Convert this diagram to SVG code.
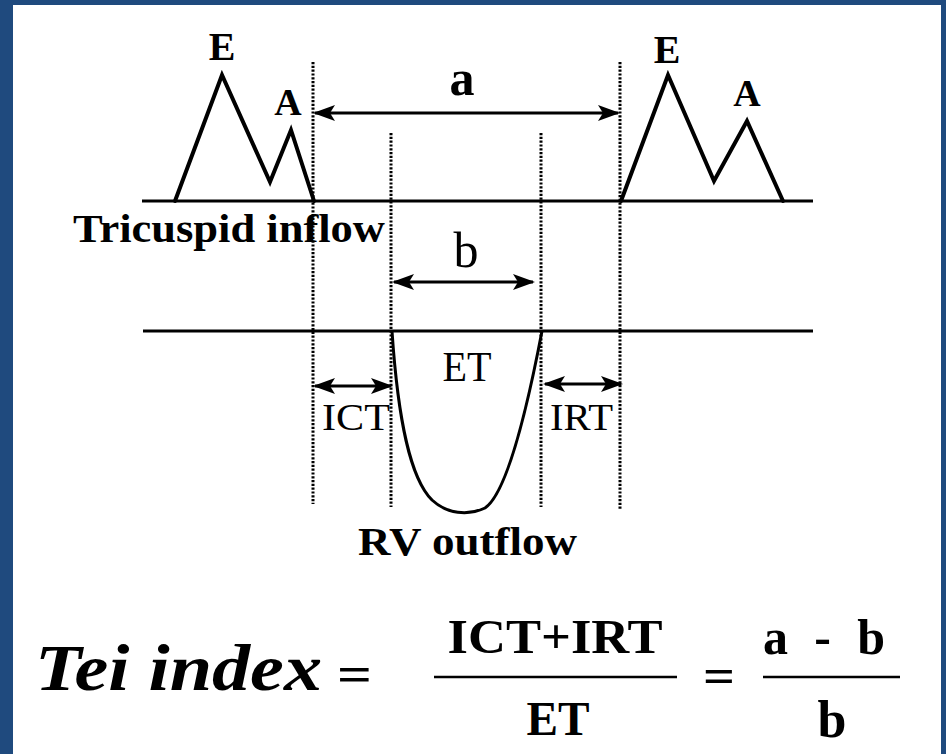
<svg xmlns="http://www.w3.org/2000/svg" width="946" height="754" viewBox="0 0 946 754">
<style>
.t{font-family:"Liberation Serif","Times New Roman",serif;fill:#000}
.b{font-weight:bold}
.bi{font-weight:bold;font-style:italic}
.w{fill:none;stroke:#000;stroke-width:4;stroke-linejoin:miter;stroke-linecap:round}
.base{fill:none;stroke:#000;stroke-width:3}
.dot{fill:none;stroke:#000;stroke-width:3;stroke-dasharray:2.2 1.6}
.arr{fill:none;stroke:#000;stroke-width:3;marker-start:url(#ah);marker-end:url(#ah)}
.frac{stroke:#000;stroke-width:2.5}
</style>
<defs>
<marker id="ah" viewBox="0 0 22 18" refX="20" refY="9" markerWidth="22" markerHeight="18" markerUnits="userSpaceOnUse" orient="auto-start-reverse">
<path d="M0,1 L22,9 L0,17 L5,9 z" fill="#000"/>
</marker>
</defs>
<rect x="0" y="0" width="946" height="754" fill="#1f4a7e"/>
<rect x="13" y="5" width="928" height="749" fill="#fff"/>

<g id="tricuspid-inflow">
<line class="base" x1="142" y1="201" x2="813" y2="201"/>
<polyline class="w" points="175,201 222,75 270,182 291,130 314,201"/>
<polyline class="w" points="621,201 668,75 714,181 747,121 783,201"/>
<text class="t b" x="222" y="60" font-size="40" text-anchor="middle">E</text>
<text class="t b" x="288" y="115" font-size="38" text-anchor="middle">A</text>
<text class="t b" x="667" y="63" font-size="40" text-anchor="middle">E</text>
<text class="t b" x="747" y="106" font-size="38" text-anchor="middle">A</text>
<text class="t b" x="73" y="242" font-size="40" textLength="312" lengthAdjust="spacingAndGlyphs">Tricuspid inflow</text>
</g>

<g id="rv-outflow">
<line class="base" x1="143" y1="331" x2="813" y2="331"/>
<path class="base" d="M392,331 C398,420 410,478 432,500 C447,514 468,516 485,508 C506,494 525,420 542,331"/>
<text class="t" x="467" y="381" font-size="42" text-anchor="middle" textLength="49" lengthAdjust="spacingAndGlyphs">ET</text>
<text class="t" x="322" y="430" font-size="38" textLength="68" lengthAdjust="spacingAndGlyphs">ICT</text>
<text class="t" x="550" y="430" font-size="38" textLength="63" lengthAdjust="spacingAndGlyphs">IRT</text>
<text class="t b" x="358" y="555" font-size="40" textLength="219" lengthAdjust="spacingAndGlyphs">RV outflow</text>
</g>

<g id="interval-labels">
<text class="t b" x="462" y="95" font-size="50" text-anchor="middle">a</text>
<text class="t" x="466" y="267" font-size="50" text-anchor="middle">b</text>
</g>

<g id="connectors">
<line class="dot" x1="313" y1="62" x2="313" y2="504"/>
<line class="dot" x1="391" y1="133" x2="391" y2="507"/>
<line class="dot" x1="541" y1="133" x2="541" y2="507"/>
<line class="dot" x1="620" y1="62" x2="620" y2="510"/>
<line class="arr" x1="315" y1="113" x2="618" y2="113"/>
<line class="arr" x1="394" y1="282" x2="533" y2="282"/>
<line class="arr" x1="315" y1="386" x2="391" y2="386"/>
<line class="arr" x1="545" y1="384" x2="621" y2="384"/>
</g>

<g id="formula">
<text class="t bi" x="35" y="690" font-size="66" textLength="287" lengthAdjust="spacingAndGlyphs">Tei index</text>
<text class="t b" x="337" y="691" font-size="50" textLength="35" lengthAdjust="spacingAndGlyphs">=</text>
<text class="t b" x="555" y="653" font-size="48" text-anchor="middle" textLength="215" lengthAdjust="spacingAndGlyphs">ICT+IRT</text>
<line class="frac" x1="434" y1="677" x2="677" y2="677"/>
<text class="t b" x="558" y="735" font-size="48" text-anchor="middle" textLength="63" lengthAdjust="spacingAndGlyphs">ET</text>
<text class="t b" x="703" y="692" font-size="48" textLength="32" lengthAdjust="spacingAndGlyphs">=</text>
<text class="t b" x="763" y="654" font-size="50" textLength="122" lengthAdjust="spacing">a - b</text>
<line class="frac" x1="763" y1="677" x2="900" y2="677"/>
<text class="t b" x="832" y="737" font-size="52" text-anchor="middle">b</text>
</g>
</svg>
